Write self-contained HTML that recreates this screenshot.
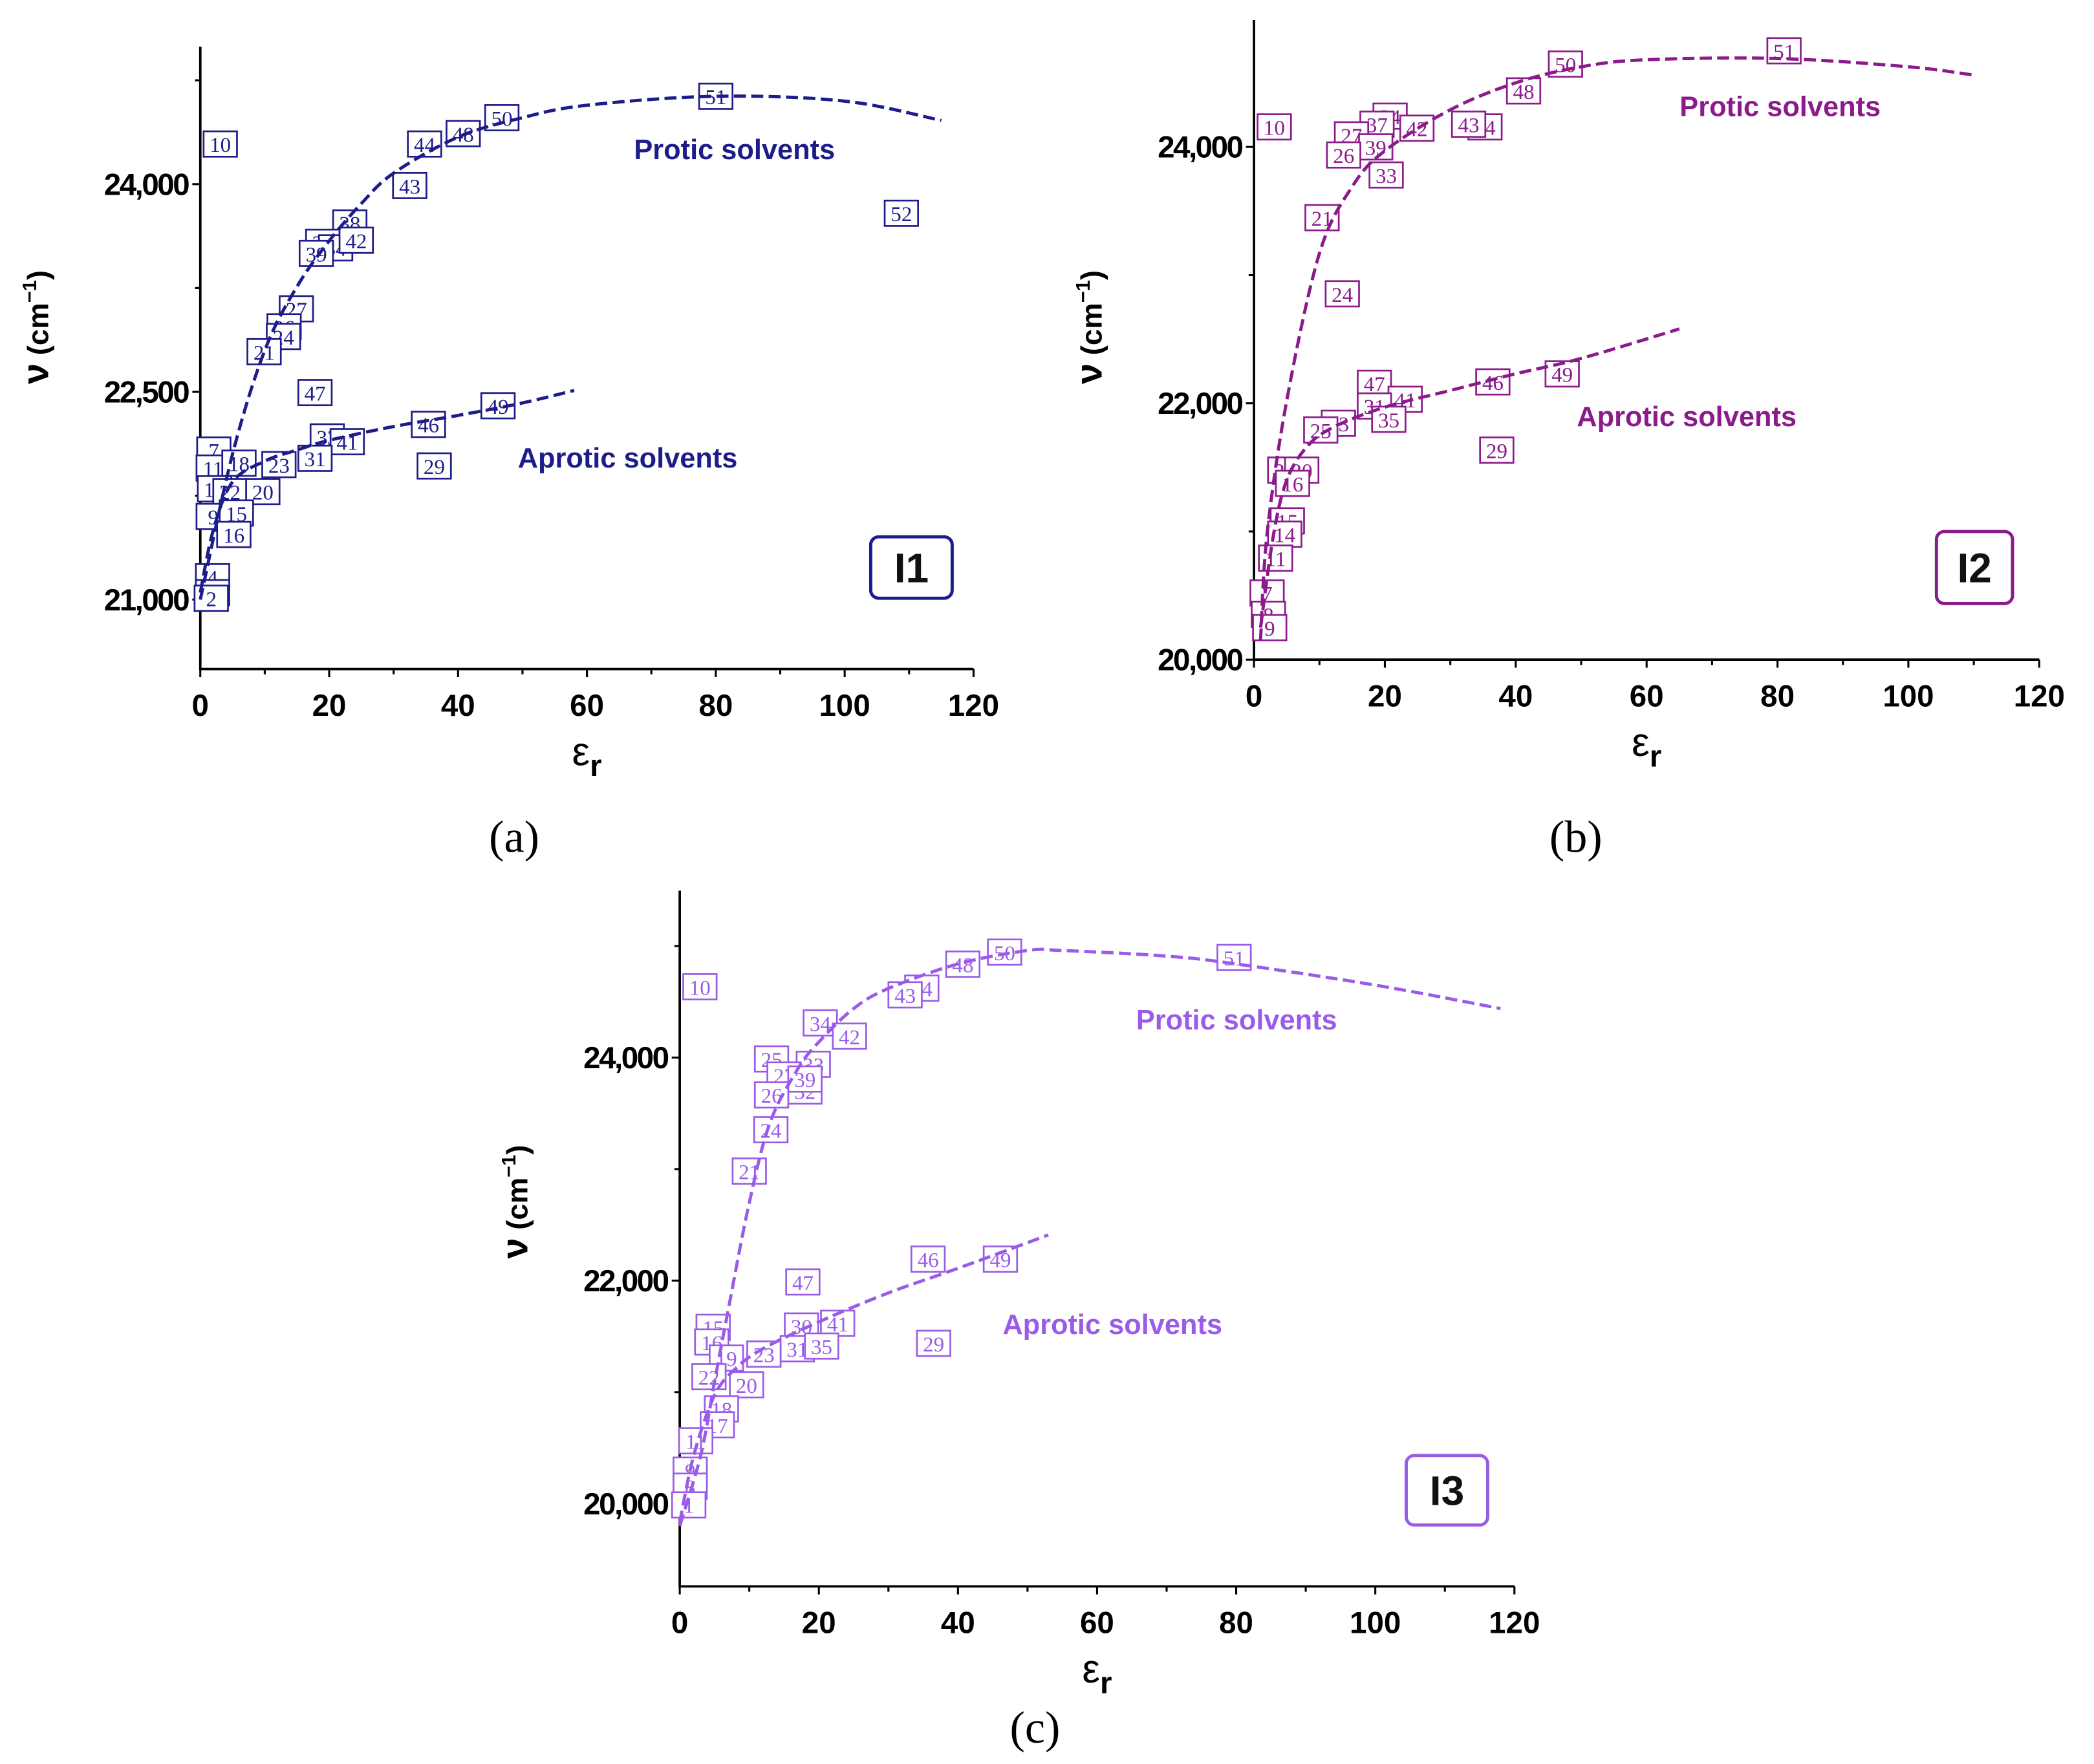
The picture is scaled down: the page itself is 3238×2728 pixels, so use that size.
<!DOCTYPE html>
<html><head><meta charset="utf-8"><style>
html,body{margin:0;padding:0;background:#fff;}
svg{display:block;}
</style></head><body>
<svg id="fig" width="3238" height="2728" viewBox="0 0 1568 1321" xmlns="http://www.w3.org/2000/svg"></svg>
<script>
// ---------- Panel (a) I1 data ----------
const aLabels = ['10','51','50','48','44','43','52','38','37','34','42','39','27','26','24','21','47','46','49','33','41','31','23','29','7','11','18','14','22','20','9','15','16','4','1','2'];
const aEps    = [3.1,80,46.8,40.8,34.8,32.5,108.8,23.2,19,21,24.2,18,14.9,13,12.9,9.9,17.8,35.4,46.2,19.7,22.8,17.8,12.2,36.3,2.1,2,6,2.2,4.6,9.7,2,5.6,5.2,1.9,1.9,1.7];
const aNu     = [24290,24635,24480,24365,24290,23990,23790,23720,23580,23540,23595,23500,23100,22970,22900,22790,22495,22265,22400,22175,22140,22020,21975,21965,22080,21950,21985,21800,21780,21780,21600,21625,21470,21165,21050,21010];
const aProticEps = [0,5,10,15,20,25,30,40,50,60,80,100,115];
const aProticNu  = [21000,22050,22800,23260,23590,23860,24080,24340,24480,24570,24635,24600,24460];
const aAproticEps = [0,2,5,10,15,20,30,40,50,58];
const aAproticNu  = [21050,21500,21850,22000,22080,22150,22250,22330,22420,22510];
const aYTicks = [21000,22500,24000];
// ---------- Panel (b) I2 data ----------
const bLabels = ['10','51','50','48','44','43','34','37','27','42','39','26','33','21','24','47','46','49','41','31','35','23','25','29','22','20','16','15','14','11','7','8','9'];
const bEps    = [3.1,81,47.6,41.2,35.3,32.8,20.8,18.8,14.9,24.9,18.6,13.7,20.2,10.4,13.5,18.4,36.5,47.1,23.1,18.4,20.6,12.9,10.2,37.1,4.7,7.3,5.9,5.1,4.7,3.3,2,2.2,2.4];
const bNu     = [24156,24750,24646,24437,24156,24177,24240,24177,24094,24146,24000,23937,23781,23448,22854,22156,22167,22229,22031,21979,21875,21844,21792,21635,21479,21479,21375,21083,20979,20792,20520,20354,20250];
const bProticEps = [1,2,5,10,15,20,30,40,50,60,80,100,110];
const bProticNu  = [20150,20980,22020,23170,23690,23970,24290,24500,24625,24680,24690,24625,24560];
const bAproticEps = [1,3,5,8,12,20,30,40,50,65];
const bAproticNu  = [20250,20980,21400,21656,21810,21970,22100,22230,22350,22580];
const bYTicks = [20000,22000,24000];
// ---------- Panel (c) I3 data ----------
const cLabels = ['10','50','51','48','44','43','34','42','25','33','27','32','39','26','24','21','47','46','49','30','41','31','35','29','23','15','16','19','22','20','18','17','11','9','8','1'];
const cEps    = [2.9,46.7,79.7,40.7,34.8,32.4,20.2,24.4,13.2,19.2,15,18,18,13.2,13.1,10,17.7,35.7,46.1,17.5,22.7,16.9,20.4,36.5,12.1,4.8,4.6,6.7,4.2,9.6,6,5.4,2.3,1.5,1.5,1.3];
const cNu     = [24635,24946,24898,24838,24623,24563,24311,24192,23988,23940,23844,23700,23808,23665,23353,22982,21988,22192,22192,21593,21617,21389,21413,21437,21341,21581,21449,21305,21138,21066,20850,20707,20563,20300,20156,19988];
const cProticEps = [0,3,5,7,10,13,17,20,25,30,40,50,55,70,80,100,118];
const cProticNu  = [19800,20430,21090,21750,22700,23420,23900,24140,24440,24620,24840,24960,24960,24910,24840,24650,24440];
const cAproticEps = [0,2,5,8,12,20,30,40,53];
const cAproticNu  = [19830,20430,20970,21210,21390,21630,21890,22110,22410];
const cYTicks = [20000,22000,24000];
const xTicks = [0,20,40,60,80,100,120];

const NS='http://www.w3.org/2000/svg';
const svg=document.getElementById('fig');
function mk(tag,attrs,parent,text){const e=document.createElementNS(NS,tag);for(const k in attrs)e.setAttribute(k,attrs[k]);if(text!==undefined)e.textContent=text;(parent||svg).appendChild(e);return e;}

function smoothPath(pts){
  let d='M'+pts[0][0].toFixed(1)+','+pts[0][1].toFixed(1);
  for(let i=0;i<pts.length-1;i++){
    const p0=pts[i-1]||pts[i],p1=pts[i],p2=pts[i+1],p3=pts[i+2]||p2;
    const c1=[p1[0]+(p2[0]-p0[0])/6,p1[1]+(p2[1]-p0[1])/6];
    const c2=[p2[0]-(p3[0]-p1[0])/6,p2[1]-(p3[1]-p1[1])/6];
    d+=` C${c1[0].toFixed(1)},${c1[1].toFixed(1)} ${c2[0].toFixed(1)},${c2[1].toFixed(1)} ${p2[0].toFixed(1)},${p2[1].toFixed(1)}`;
  }
  return d;
}

function panel(cfg){
  const g=mk('g',{});
  
  
  const X=v=>cfg.x0+(v-0)/120*(cfg.x1-cfg.x0);
  const Y=v=>cfg.yRef+(cfg.yRefV-v)*cfg.pyPer;
  const axis=mk('path',{d:`M${cfg.x0},${cfg.top} V${cfg.bottom} H${cfg.x1}`,stroke:'#000','stroke-width':1.8,fill:'none'},g);
  
  
  for(let v=0;v<=120;v+=10){
    const major=v%20===0;
    mk('line',{x1:X(v),x2:X(v),y1:cfg.bottom,y2:cfg.bottom+(major?6:4),stroke:'#000','stroke-width':1.5},g);
  }
  xTicks.forEach(v=>{
    const t=mk('text',{x:X(v),y:cfg.bottom+35,'text-anchor':'middle','font-family':'Liberation Sans, sans-serif','font-weight':'bold','font-size':23},g,String(v));
    
    
  });
  for(let v=cfg.minorStart;Y(v)>=cfg.top;v+=cfg.minorStep){
    if(Y(v)>cfg.bottom) continue;
    const major=cfg.yTicks.includes(v);
    mk('line',{x1:cfg.x0,x2:cfg.x0-(major?6:4),y1:Y(v),y2:Y(v),stroke:'#000','stroke-width':1.5},g);
  }
  cfg.yTicks.forEach(v=>{
    const t=mk('text',{x:cfg.x0-9,y:Y(v)+8,'text-anchor':'end','font-family':'Liberation Sans, sans-serif','font-weight':'bold','font-size':23,'letter-spacing':-1.2},g,v.toLocaleString('en-US'));
    
    
  });
  const yt=mk('text',{transform:`translate(${cfg.x0-114},${cfg.yTitleY}) rotate(-90)`,'text-anchor':'middle','font-family':'Liberation Sans, sans-serif','font-weight':'bold','font-size':22},g);
  
  
  mk('tspan',{'font-size':28},yt,'ν');
  mk('tspan',{},yt,'  (cm');
  mk('tspan',{dy:-9,'font-size':15},yt,'−1');
  mk('tspan',{dy:9},yt,')');
  const xt=mk('text',{x:(cfg.x0+cfg.x1)/2,y:cfg.bottom+72,'text-anchor':'middle','font-family':'Liberation Sans, sans-serif','font-size':30},g);
  
  
  mk('tspan',{},xt,'ε');
  mk('tspan',{dy:8,'font-size':23,'font-weight':'bold'},xt,'r');
  function curve(ex,ny,nm){
    const pts=ex.map((e,i)=>[X(e),Y(ny[i])]);
    const p=mk('path',{d:smoothPath(pts),stroke:cfg.color,'stroke-width':2.4,'stroke-dasharray':'9,4',fill:'none'},g);
    
    
  }
  cfg.labels.forEach((lab,i)=>{
    const cx=X(cfg.eps[i]), cy=Y(cfg.nu[i]);
    const pg=mk('g',{},g);
    
    
    mk('rect',{x:cx-12.5,y:cy-9.5,width:25,height:19,fill:'#fff',stroke:cfg.color,'stroke-width':1.3},pg);
    mk('text',{x:cx,y:cy+6,'text-anchor':'middle','font-family':'Liberation Serif, serif','font-size':16,fill:cfg.color},pg,lab);
  });
  curve(cfg.pEps,cfg.pNu,'protic-fit-curve');
  curve(cfg.aEps2,cfg.aNu2,'aprotic-fit-curve');
  const pt=mk('text',{x:cfg.protic[0],y:cfg.protic[1],'text-anchor':'middle','font-family':'Liberation Sans, sans-serif','font-weight':'bold','font-size':21,fill:cfg.color},g,'Protic solvents');
  
  
  const at=mk('text',{x:cfg.aprotic[0],y:cfg.aprotic[1],'text-anchor':'middle','font-family':'Liberation Sans, sans-serif','font-weight':'bold','font-size':21,fill:cfg.color},g,'Aprotic solvents');
  
  
  const b=cfg.box;
  const bg=mk('g',{},g);
  
  
  mk('rect',{x:b[0],y:b[1],width:b[2],height:b[3],rx:6,fill:'#fff',stroke:cfg.color,'stroke-width':2.4},bg);
  mk('text',{x:b[0]+b[2]/2,y:b[1]+b[3]/2+11,'text-anchor':'middle','font-family':'Liberation Sans, sans-serif','font-weight':'bold','font-size':31,fill:'#111'},bg,cfg.badge);
  const cap=mk('text',{x:cfg.cap[0],y:cfg.cap[1],'text-anchor':'middle','font-family':'Liberation Serif, serif','font-size':34},g,cfg.capText);
  
  
}

panel({name:'panel-a',color:'#1c1c8a',x0:150,x1:729,top:35,bottom:501,yRef:449,yRefV:21000,pyPer:0.1037,
  yTicks:aYTicks,minorStart:20250,minorStep:750,yTitleY:245,
  labels:aLabels,eps:aEps,nu:aNu,pEps:aProticEps,pNu:aProticNu,aEps2:aAproticEps,aNu2:aAproticNu,
  protic:[550,119],aprotic:[470,350],box:[652,402,61,46],badge:'I1',cap:[385,638],capText:'(a)'});
panel({name:'panel-b',color:'#8b1a8b',x0:939,x1:1527,top:15,bottom:494,yRef:494,yRefV:20000,pyPer:0.096,
  yTicks:bYTicks,minorStart:20000,minorStep:1000,yTitleY:245,
  labels:bLabels,eps:bEps,nu:bNu,pEps:bProticEps,pNu:bProticNu,aEps2:bAproticEps,aNu2:bAproticNu,
  protic:[1333,87],aprotic:[1263,319],box:[1450,398,57,54],badge:'I2',cap:[1180,638],capText:'(b)'});
panel({name:'panel-c',color:'#9a5ce8',x0:509,x1:1134,top:667,bottom:1188,yRef:1126,yRefV:20000,pyPer:0.0835,
  yTicks:cYTicks,minorStart:19000,minorStep:1000,yTitleY:900,
  labels:cLabels,eps:cEps,nu:cNu,pEps:cProticEps,pNu:cProticNu,aEps2:cAproticEps,aNu2:cAproticNu,
  protic:[926,771],aprotic:[833,999],box:[1053,1090,61,52],badge:'I3',cap:[775,1305],capText:'(c)'});
</script>
</body></html>
